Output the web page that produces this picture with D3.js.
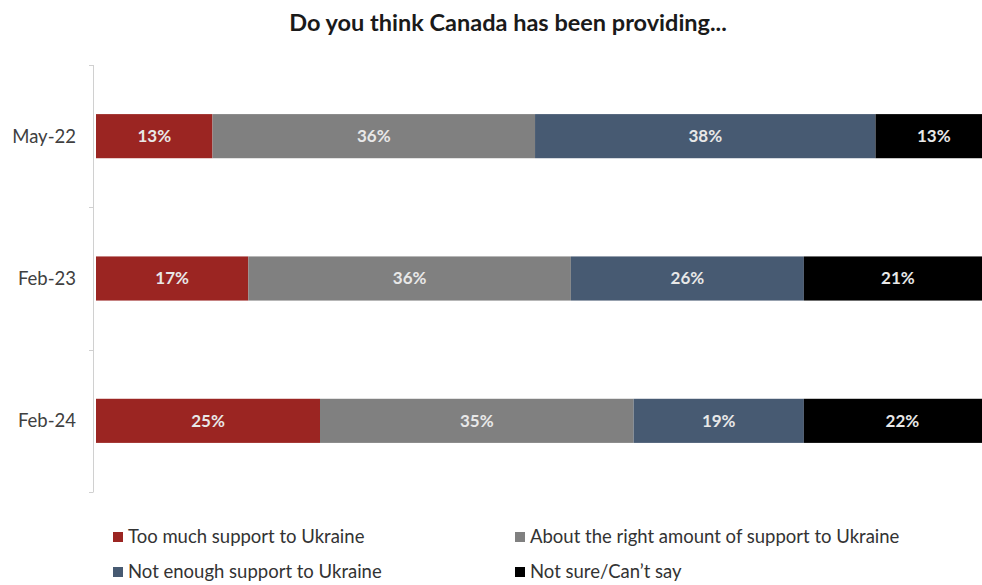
<!DOCTYPE html>
<html>
<head>
<meta charset="utf-8">
<script src="https://cdn.jsdelivr.net/npm/d3@7"></script>
<style>
  body { margin: 0; background: #fff; }
  svg { display: block; font-family: Lato, "Open Sans", sans-serif; }
</style>
</head>
<body>
<svg id="chart"></svg>
<script>
var w = 982;
var h = 585;

// survey waves, top to bottom
var waves = ["May-22", "Feb-23", "Feb-24"];

var series = [
    "Too much support to Ukraine",
    "About the right amount of support to Ukraine",
    "Not enough support to Ukraine",
    "Not sure/Can\u2019t say"
];
var colors = ["#9b2522", "#808080", "#475a72", "#000000"];

// percentages per wave, in series order
var tooMuch    = [13, 17, 25];
var aboutRight = [36, 36, 35];
var notEnough  = [38, 26, 19];
var notSure    = [13, 21, 22];

var values = [tooMuch, aboutRight, notEnough, notSure];

var rows = waves.map(function(wv, i) {
    var d = { wave: wv };
    series.forEach(function(s, k) { d[s] = values[k][i]; });
    return d;
});

var stacked = d3.stack().keys(series)(rows);

var svg = d3.select("#chart")
    .attr("width", w)
    .attr("height", h);

// right side of the plot is cut off at the window edge, as in the source
var x = d3.scaleLinear()
    .domain([0, 100])
    .range([96, 992]);

var y = d3.scaleBand()
    .domain(waves)
    .range([65, 492])
    .paddingInner(0.69)
    .paddingOuter(0.345);

// title
svg.append("text")
    .attr("x", 508)
    .attr("y", 31)
    .attr("text-anchor", "middle")
    .attr("font-size", 23.5)
    .attr("font-weight", "bold")
    .attr("fill", "#1a1a1a")
    .text("Do you think Canada has been providing...");

// y axis, ticks between the categories
var axisG = svg.append("g").attr("class", "y-axis");
axisG.append("line")
    .attr("x1", 93.5).attr("x2", 93.5)
    .attr("y1", 65).attr("y2", 492)
    .attr("stroke", "#d0d0d0");

var step = y.step();
var tickYs = [65].concat(waves.map(function(wv) { return y(wv) + y.bandwidth() + (step - y.bandwidth()) / 2; }));
axisG.selectAll("line.tick")
    .data(tickYs)
    .enter().append("line")
    .attr("class", "tick")
    .attr("x1", 89).attr("x2", 93.5)
    .attr("y1", function(d) { return Math.round(d) + 0.5; })
    .attr("y2", function(d) { return Math.round(d) + 0.5; })
    .attr("stroke", "#d0d0d0");

axisG.selectAll("text")
    .data(waves)
    .enter().append("text")
    .attr("x", 76)
    .attr("y", function(d) { return y(d) + y.bandwidth() / 2; })
    .attr("dy", "0.35em")
    .attr("text-anchor", "end")
    .attr("font-size", 18.5)
    .attr("fill", "#404040")
    .text(function(d) { return d; });

// bars
var layers = svg.selectAll("g.layer")
    .data(stacked)
    .enter().append("g")
    .attr("class", "layer")
    .attr("fill", function(d, i) { return colors[i]; });

layers.selectAll("rect")
    .data(function(d) { return d; })
    .enter().append("rect")
    .attr("x", function(d) { return x(d[0]); })
    .attr("width", function(d) { return x(d[1]) - x(d[0]); })
    .attr("y", function(d) { return y(d.data.wave); })
    .attr("height", y.bandwidth());

layers.selectAll("text")
    .data(function(d) { return d; })
    .enter().append("text")
    .attr("x", function(d) { return (x(d[0]) + x(d[1])) / 2; })
    .attr("y", function(d) { return y(d.data.wave) + y.bandwidth() / 2; })
    .attr("dy", "0.35em")
    .attr("text-anchor", "middle")
    .attr("font-size", 17)
    .attr("font-weight", "bold")
    .attr("fill", "#e8e8e8")
    .text(function(d) { return (d[1] - d[0]) + "%"; });

// legend, two columns
var legend = svg.selectAll("g.legend")
    .data(series)
    .enter().append("g")
    .attr("class", "legend")
    .attr("transform", function(d, i) {
        return "translate(" + [i % 2 === 0 ? 113 : 515, i < 2 ? 537 : 572] + ")";
    });

legend.append("rect")
    .attr("x", 0).attr("y", -5)
    .attr("width", 10).attr("height", 10)
    .attr("fill", function(d, i) { return colors[i]; });

legend.append("text")
    .attr("x", 15)
    .attr("dy", "0.35em")
    .attr("font-size", 18.5)
    .attr("fill", "#333")
    .text(function(d) { return d; });
</script>
</body>
</html>
